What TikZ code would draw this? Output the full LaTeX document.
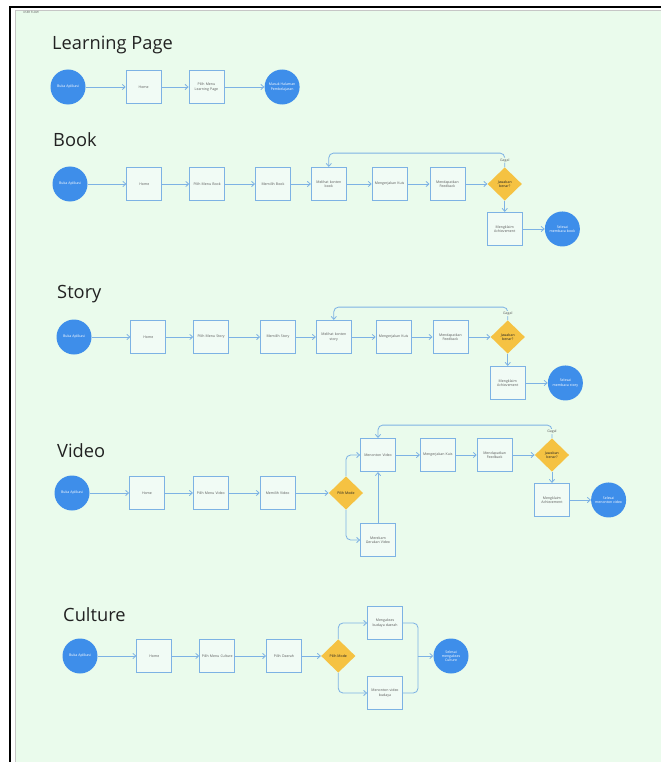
\documentclass[tikz,border=0pt]{standalone}
\usepackage{fontspec}
\setmainfont{Open Sans}
\usepackage{xcolor}
\usetikzlibrary{shapes.geometric, arrows.meta, positioning, calc}
\definecolor{flowblue}{RGB}{62,142,234}
\definecolor{edgeblue}{RGB}{125,178,228}
\definecolor{boxfill}{RGB}{241,251,245}
\definecolor{gateyellow}{RGB}{245,194,66}
\definecolor{panelmint}{RGB}{234,251,236}
\definecolor{titlegray}{RGB}{34,34,34}
\definecolor{notegray}{RGB}{90,90,90}
\tikzset{
  terminal/.style={
    circle, minimum size=1.05cm, inner sep=0pt, fill=flowblue,
    text=white, align=center, font=\fontsize{3}{3.6}\selectfont
  },
  screen/.style={
    rectangle, minimum width=1.05cm, minimum height=1cm, inner sep=0pt,
    draw=edgeblue, line width=0.7pt, fill=boxfill, text width=0.95cm,
    align=center, font=\fontsize{3}{3.6}\selectfont, text=notegray
  },
  decision/.style={
    diamond, aspect=1, minimum width=1.03cm, minimum height=1cm, inner sep=0pt,
    fill=gateyellow, align=center, font=\fontsize{3}{3.6}\selectfont,
    text=titlegray
  },
  flow/.style={-{Straight Barb[length=2.5pt,width=4.5pt]}, line width=0.7pt,
    draw=edgeblue, rounded corners=4pt},
  link/.style={line width=0.7pt, draw=edgeblue, rounded corners=4pt},
  sectiontitle/.style={anchor=base west, inner sep=0pt,
    font=\fontsize{15.6}{18}\selectfont, text=titlegray},
  failnote/.style={fill=panelmint, inner sep=0.6pt,
    font=\fontsize{3}{3.6}\selectfont, text=notegray}
}

\begin{document}
\begin{tikzpicture}[x=0.03cm, y=-0.03cm]
  \useasboundingbox (0,0) rectangle (661,762);
  % board
  \fill[white] (0,0) rectangle (661,762);
  \fill[panelmint] (15,10) rectangle (661,762);
  \draw[gray!45, line width=0.4pt] (15,762) -- (15,10) -- (661,10);
  \draw[black, line width=1.6pt] (10,762) -- (10,7) -- (661,7);
  \node[font=\fontsize{2.5}{3}\selectfont, text=notegray] (tag) at (31,12) {USER FLOW};

  % Learning Page
  \node[sectiontitle] (t-learn) at (52,50) {Learning Page};
  \node[terminal] (lp-open) at (68,87) {Buka Aplikasi};
  \node[screen, right=1.2cm of lp-open] (lp-home) {Home};
  \node[screen, right=0.81cm of lp-home] (lp-menu) {Pilih Menu\\Learning Page};
  \node[terminal, right=1.2cm of lp-menu] (lp-done) {Masuk Halaman\\Pembelajaran};

  \draw[flow] (lp-open) -- (lp-home);
  \draw[flow] (lp-home) -- (lp-menu);
  \draw[flow] (lp-menu) -- (lp-done);

  % Book
  \node[sectiontitle] (t-book) at (53,147) {Book};
  \node[terminal] (bk-open) at (70,184) {Buka Aplikasi};
  \node[screen, right=1.16cm of bk-open] (bk-home) {Home};
  \node[screen, right=0.81cm of bk-home] (bk-menu) {Pilih Menu Book};
  \node[screen, right=0.9cm of bk-menu] (bk-find) {Memilih Book};
  \node[screen, right=0.6cm of bk-find] (bk-read) {Melihat konten\\book};
  \node[screen, right=0.75cm of bk-read] (bk-quiz) {Mengerjakan Kuis};
  \node[screen, right=0.66cm of bk-quiz] (bk-feed) {Mendapatkan\\Feedback};
  \node[decision, right=0.66cm of bk-feed] (bk-check) {Jawaban\\benar?};
  \node[screen, below=0.33cm of bk-check] (bk-badge) {Mengklaim\\Achievement};
  \node[terminal, right=0.66cm of bk-badge] (bk-done) {Selesai\\membaca book};

  \draw[flow] (bk-open) -- (bk-home);
  \draw[flow] (bk-home) -- (bk-menu);
  \draw[flow] (bk-menu) -- (bk-find);
  \draw[flow] (bk-find) -- (bk-read);
  \draw[flow] (bk-read) -- (bk-quiz);
  \draw[flow] (bk-quiz) -- (bk-feed);
  \draw[flow] (bk-feed) -- (bk-check);
  \draw[flow] (bk-check) -- (bk-badge);
  \draw[flow] (bk-badge) -- (bk-done);
  \draw[flow] (bk-check.north) -- node[failnote]{Gagal} ++(0,-14) -| (bk-read.north);

  % Story
  \node[sectiontitle] (t-story) at (57,298) {Story};
  \node[terminal] (st-open) at (74,337) {Buka Aplikasi};
  \node[screen, right=1.16cm of st-open] (st-home) {Home};
  \node[screen, right=0.81cm of st-home] (st-menu) {Pilih Menu Story};
  \node[screen, right=0.93cm of st-menu] (st-find) {Memilih Story};
  \node[screen, right=0.6cm of st-find] (st-read) {Melihat konten\\story};
  \node[screen, right=0.72cm of st-read] (st-quiz) {Mengerjakan Kuis};
  \node[screen, right=0.63cm of st-quiz] (st-feed) {Mendapatkan\\Feedback};
  \node[decision, right=0.66cm of st-feed] (st-check) {Jawaban\\benar?};
  \node[screen, below=0.36cm of st-check] (st-badge) {Mengklaim\\Achievement};
  \node[terminal, right=0.66cm of st-badge] (st-done) {Selesai\\membaca story};

  \draw[flow] (st-open) -- (st-home);
  \draw[flow] (st-home) -- (st-menu);
  \draw[flow] (st-menu) -- (st-find);
  \draw[flow] (st-find) -- (st-read);
  \draw[flow] (st-read) -- (st-quiz);
  \draw[flow] (st-quiz) -- (st-feed);
  \draw[flow] (st-feed) -- (st-check);
  \draw[flow] (st-check) -- (st-badge);
  \draw[flow] (st-badge) -- (st-done);
  \draw[flow] (st-check.north) -- node[failnote]{Gagal} ++(0,-13) -| (st-read.north);

  % Video
  \node[sectiontitle] (t-video) at (57,457) {Video};
  \node[terminal] (vd-open) at (72,493) {Buka Aplikasi};
  \node[screen, right=1.18cm of vd-open] (vd-home) {Home};
  \node[screen, right=0.84cm of vd-home] (vd-menu) {Pilih Menu Video};
  \node[screen, right=0.93cm of vd-menu] (vd-find) {Memilih Video};
  \node[decision, right=0.99cm of vd-find] (vd-mode) {Pilih Mode};
  \node[screen] (vd-watch) at (378,455) {Menonton Video};
  \node[screen] (vd-record) at (378,540) {Merekam\\Gerakan Video};
  \node[screen, right=0.72cm of vd-watch] (vd-quiz) {Mengerjakan Kuis};
  \node[screen, right=0.63cm of vd-quiz] (vd-feed) {Mendapatkan\\Feedback};
  \node[decision, right=0.66cm of vd-feed] (vd-check) {Jawaban\\benar?};
  \node[screen, below=0.33cm of vd-check] (vd-badge) {Mengklaim\\Achievement};
  \node[terminal, right=0.63cm of vd-badge] (vd-done) {Selesai\\menonton video};

  \draw[flow] (vd-open) -- (vd-home);
  \draw[flow] (vd-home) -- (vd-menu);
  \draw[flow] (vd-menu) -- (vd-find);
  \draw[flow] (vd-find) -- (vd-mode);
  \draw[flow] (vd-mode.north) |- (vd-watch.west);
  \draw[flow] (vd-mode.south) |- (vd-record.west);
  \draw[flow] (vd-record) -- (vd-watch);
  \draw[flow] (vd-watch) -- (vd-quiz);
  \draw[flow] (vd-quiz) -- (vd-feed);
  \draw[flow] (vd-feed) -- (vd-check);
  \draw[flow] (vd-check) -- (vd-badge);
  \draw[flow] (vd-badge) -- (vd-done);
  \draw[flow] (vd-check.north) -- node[failnote]{Gagal} ++(0,-13) -| (vd-watch.north);

  % Culture
  \node[sectiontitle] (t-culture) at (63,621) {Culture};
  \node[terminal] (cu-open) at (80,656) {Buka Aplikasi};
  \node[screen, right=1.16cm of cu-open] (cu-home) {Home};
  \node[screen, right=0.81cm of cu-home] (cu-menu) {Pilih Menu Culture};
  \node[screen, right=0.93cm of cu-menu] (cu-region) {Pilih Daerah};
  \node[decision, right=0.57cm of cu-region] (cu-mode) {Pilih Mode};
  \node[screen] (cu-explore) at (385,623) {Mengakses\\budaya daerah};
  \node[screen] (cu-clip) at (385,693) {Menonton video\\budaya};
  \coordinate (cu-join) at (418,656);
  \node[terminal] (cu-done) at (451,656) {Selesai\\mengakses\\Culture};

  \draw[flow] (cu-open) -- (cu-home);
  \draw[flow] (cu-home) -- (cu-menu);
  \draw[flow] (cu-menu) -- (cu-region);
  \draw[flow] (cu-region) -- (cu-mode);
  \draw[flow] (cu-mode.north) |- (cu-explore.west);
  \draw[flow] (cu-mode.south) |- (cu-clip.west);
  \draw[link] (cu-explore.east) -| (cu-join);
  \draw[link] (cu-clip.east) -| (cu-join);
  \draw[flow] (cu-join) -- (cu-done);
\end{tikzpicture}
\end{document}
